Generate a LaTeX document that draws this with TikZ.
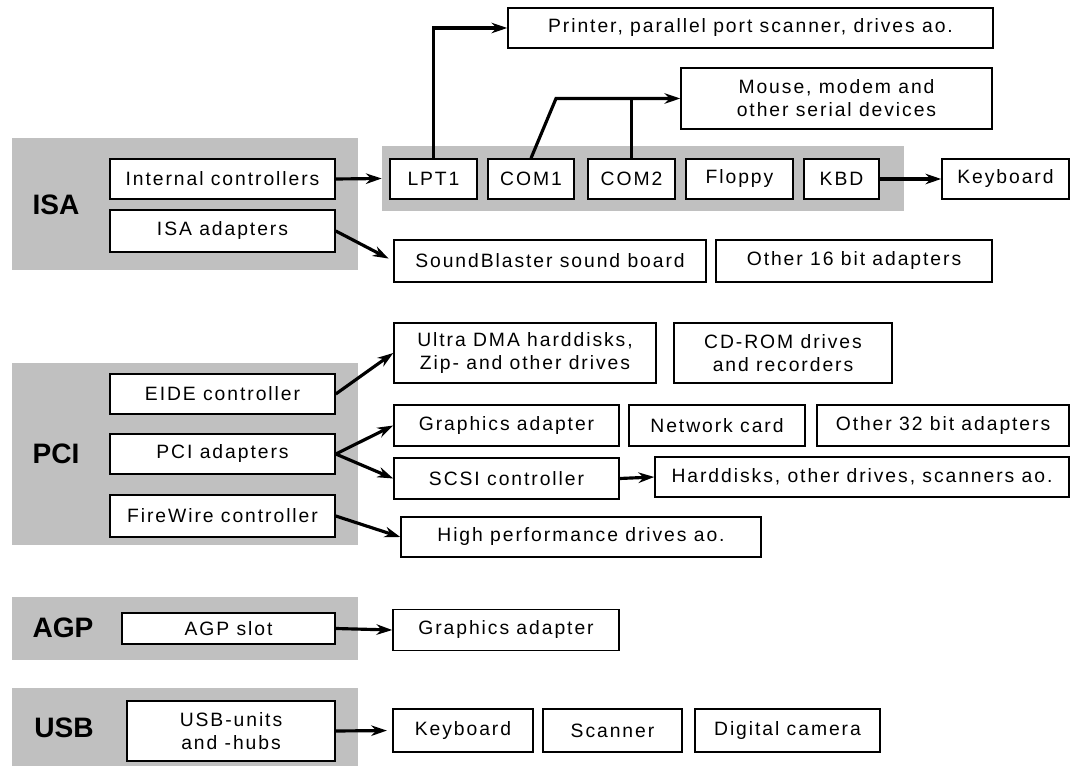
\documentclass[tikz,border=0pt]{standalone}
\usepackage{fontspec}
\setmainfont[LetterSpace=10]{Liberation Sans}
\usetikzlibrary{arrows.meta}
\definecolor{bus_grey}{RGB}{192, 192, 192}
\tikzstyle{bus}=[rectangle,fill=bus_grey,draw=none,inner sep=0pt]
\tikzstyle{busname}=[font=\fontsize{16}{19}\selectfont\addfontfeature{LetterSpace=0}\bfseries]
\tikzstyle{dev}=[rectangle,fill=white,draw=black,line width=0.9pt,
  inner sep=2pt,align=center,font=\fontsize{11}{13}\selectfont,
  minimum height=0.8cm]
\tikzstyle{link}=[line width=1.8pt,-{Stealth[length=9pt,width=6pt]}]
\tikzstyle{tap}=[line width=1.8pt]
\begin{document}
\begin{tikzpicture}[x=0.02cm,y=-0.02cm]
        \useasboundingbox (0,0) rectangle (1071,766);
        \node[style=bus,minimum width=6.92cm,minimum height=2.64cm] (isa) at (185,204) {};
        \node[style=bus,minimum width=10.44cm,minimum height=1.3cm] (ports) at (643,178.5) {};
        \node[style=bus,minimum width=6.92cm,minimum height=3.64cm] (pci) at (185,454) {};
        \node[style=bus,minimum width=6.92cm,minimum height=1.26cm] (agp) at (185,628.5) {};
        \node[style=bus,minimum width=6.92cm,minimum height=1.56cm] (usb) at (185,727) {};
        \node[style=busname] (isaname) at (56,205) {ISA};
        \node[style=busname] (pciname) at (56,454) {PCI};
        \node[style=busname] (agpname) at (63,628) {AGP};
        \node[style=busname] (usbname) at (64,728) {USB};
        \node[style=dev,minimum width=4.5cm] (intctrl) at (222.5,179) {Internal controllers};
        \node[style=dev,minimum width=4.5cm,minimum height=0.84cm] (isaad) at (222.5,231) {ISA adapters};
        \node[style=dev,minimum width=1.74cm] (lpt) at (433.5,179) {LPT1};
        \node[style=dev,minimum width=1.72cm] (com1) at (531,179) {COM1};
        \node[style=dev,minimum width=1.74cm] (com2) at (631.5,179) {COM2};
        \node[style=dev,minimum width=2.14cm] (floppy) at (739.5,179) {Floppy};
        \node[style=dev,minimum width=1.5cm] (kbd) at (841.5,179) {KBD};
        \node[style=dev,minimum width=2.54cm] (keyb) at (1005.5,179) {Keyboard};
        \node[style=dev,minimum width=9.7cm] (printer) at (750.5,28) {Printer, parallel port scanner, drives ao.};
        \node[style=dev,minimum width=6.22cm,minimum height=1.22cm] (mouse) at (836.5,98.5) {Mouse, modem and\\other serial devices};
        \node[style=dev,minimum width=6.24cm,minimum height=0.84cm] (sb) at (550,261) {SoundBlaster sound board};
        \node[style=dev,minimum width=5.52cm,minimum height=0.84cm] (other16) at (854,261) {Other 16 bit adapters};
        \coordinate (serial) at (556,98.5);
        \draw[style=link] (intctrl.east) to (ports.west);
        \draw[style=link] (lpt.north) |- (printer.west);
        \draw[style=link] (com1.north) to (serial) to (mouse.west);
        \draw[style=tap] (com2.north) to (com2.north |- serial);
        \draw[style=link] (kbd.east) to (keyb.west);
        \draw[style=link,shorten >=3pt] (isaad.east) to (sb.west);
        \node[style=dev,minimum width=4.5cm] (eide) at (222.5,394) {EIDE controller};
        \node[style=dev,minimum width=4.5cm] (pciad) at (222.5,454) {PCI adapters};
        \node[style=dev,minimum width=4.5cm,minimum height=0.84cm] (fw) at (222.5,516) {FireWire controller};
        \node[style=dev,minimum width=5.24cm,minimum height=1.2cm] (udma) at (525,353) {Ultra DMA harddisks,\\Zip- and other drives};
        \node[style=dev,minimum width=4.36cm,minimum height=1.2cm] (cdrom) at (783,353) {CD-ROM drives\\and recorders};
        \node[style=dev,minimum width=4.5cm,minimum height=0.82cm] (gfx) at (506.5,425.5) {Graphics adapter};
        \node[style=dev,minimum width=3.52cm,minimum height=0.82cm] (net) at (717,425.5) {Network card};
        \node[style=dev,minimum width=5.04cm,minimum height=0.82cm] (other32) at (943,425.5) {Other 32 bit adapters};
        \node[style=dev,minimum width=4.5cm,minimum height=0.82cm] (scsi) at (506.5,478.5) {SCSI controller};
        \node[style=dev,minimum width=8.28cm] (hdd) at (862,477) {Harddisks, other drives, scanners ao.};
        \node[style=dev,minimum width=7.2cm] (hiperf) at (581,537) {High performance drives ao.};
        \draw[style=link] (eide.east) to (udma.west);
        \draw[style=link] (pciad.east) to (gfx.west);
        \draw[style=link] (pciad.east) to (scsi.west);
        \draw[style=link] (fw.east) to (hiperf.west);
        \draw[style=link] (scsi.east) to (hdd.west);
        \node[style=dev,minimum width=4.26cm,minimum height=0.62cm] (slot) at (228.5,628.5) {AGP slot};
        \node[style=dev,minimum width=4.52cm,minimum height=0.82cm] (agpgfx) at (506,630) {Graphics adapter};
        \draw[style=link] (slot.east) to (agpgfx.west);
        \node[style=dev,minimum width=4.16cm,minimum height=1.2cm] (hubs) at (231,731) {USB-units\\and -hubs};
        \node[style=dev,minimum width=2.8cm,minimum height=0.86cm] (usbkeyb) at (463,730.5) {Keyboard};
        \node[style=dev,minimum width=2.78cm,minimum height=0.86cm] (scanner) at (612.5,730.5) {Scanner};
        \node[style=dev,minimum width=3.7cm,minimum height=0.86cm] (camera) at (787.5,730.5) {Digital camera};
        \draw[style=link,shorten >=3pt] (hubs.east) to (usbkeyb.west);
\end{tikzpicture}
\end{document}
